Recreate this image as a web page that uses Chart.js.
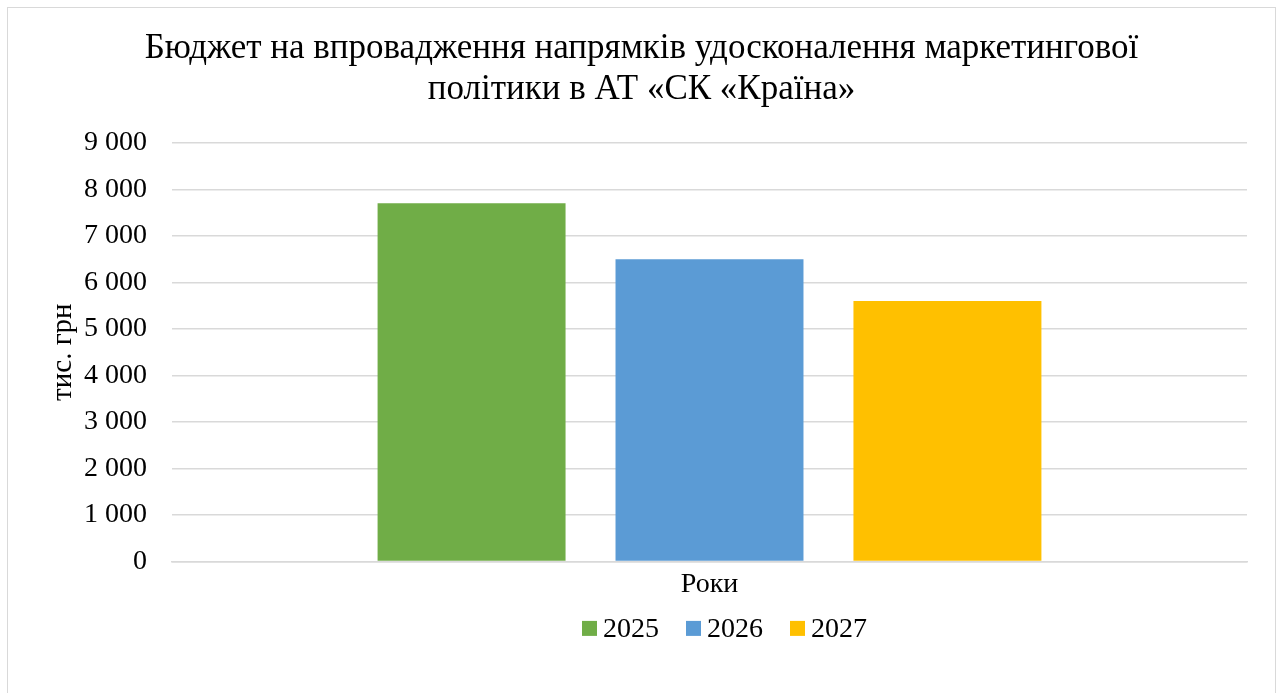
<!DOCTYPE html>
<html>
<head>
<meta charset="utf-8">
<script src="https://cdn.jsdelivr.net/npm/chart.js@4"></script>
<style>
  html,body{margin:0;padding:0;background:#fff;}
  #wrap{position:absolute;left:0;top:0;width:1277px;height:693px;}
  #frame{position:absolute;left:7px;top:7px;width:1269px;height:690px;border:1px solid #d9d9d9;box-sizing:border-box;}
</style>
</head>
<body>
<div id="frame"></div>
<div id="wrap"><canvas id="c" width="1277" height="693"></canvas></div>
<script>
const titleLines = ['Бюджет на впровадження напрямків удосконалення маркетингової', 'політики в АТ «СК «Країна»'];
const categories = ['Роки'];
const seriesNames = ['2025', '2026', '2027'];
const seriesValues = [[7700], [6500], [5600]];
const seriesColors = ['#70ad47', '#5b9bd5', '#ffc000'];
const yTitle = 'тис. грн';
const yMin = 0, yMax = 9000, yStep = 1000;

const FONT = '"Liberation Serif", "Times New Roman", serif';
function fmt(v){ return String(v).replace(/\B(?=(\d{3})+(?!\d))/g, ' '); }

// Excel-style legend: small square, short gap, label
const excelLegend = {
  id: 'excelLegend',
  afterDraw(chart) {
    const ctx = chart.ctx;
    const size = 28, box = 15, gap = 6, itemGap = 27;
    ctx.save();
    ctx.font = size + 'px ' + FONT;
    ctx.textBaseline = 'middle';
    const items = chart.data.datasets.map(ds => ({ text: ds.label, color: ds.backgroundColor, w: ctx.measureText(ds.label).width }));
    let total = 0;
    items.forEach((it, i) => { total += box + gap + it.w + (i < items.length - 1 ? itemGap : 0); });
    const ca = chart.chartArea;
    const cy = ca.bottom + 67;
    let x = (ca.left + ca.right) / 2 + 15 - total / 2;
    items.forEach(it => {
      ctx.fillStyle = it.color;
      ctx.fillRect(x, cy - box / 2, box, box);
      x += box + gap;
      ctx.fillStyle = '#000';
      ctx.fillText(it.text, x, cy + 1);
      x += it.w + itemGap;
    });
    ctx.restore();
  }
};

new Chart(document.getElementById('c'), {
  type: 'bar',
  data: {
    labels: categories,
    datasets: seriesNames.map((n, i) => ({
      label: n,
      data: seriesValues[i],
      backgroundColor: seriesColors[i],
      borderWidth: 0,
      categoryPercentage: 0.664,
      barPercentage: 0.79
    }))
  },
  plugins: [excelLegend],
  options: {
    responsive: false,
    animation: false,
    devicePixelRatio: 1,
    layout: { padding: { left: 36, right: 30, top: 0, bottom: 86 } },
    plugins: {
      title: {
        display: true,
        text: titleLines,
        color: '#000',
        font: { family: FONT, size: 35, weight: 'normal', lineHeight: 1.17 },
        padding: { top: 28, bottom: 33 }
      },
      legend: { display: false },
      tooltip: { enabled: false }
    },
    scales: {
      x: {
        grid: { display: false, drawTicks: false },
        border: { color: '#d9d9d9', width: 1.5 },
        ticks: { color: '#000', font: { family: FONT, size: 28 }, padding: 6 }
      },
      y: {
        min: yMin, max: yMax,
        ticks: {
          stepSize: yStep,
          color: '#000',
          font: { family: FONT, size: 28 },
          padding: 25,
          callback: v => fmt(v)
        },
        grid: { color: '#d9d9d9', lineWidth: 1.5, drawTicks: false },
        border: { display: false },
        title: {
          display: true,
          text: yTitle,
          color: '#000',
          font: { family: FONT, size: 29 },
          padding: { top: 10, bottom: 0 }
        },
        afterFit: s => { s.width = 136; }
      }
    }
  }
});
</script>
</body>
</html>
